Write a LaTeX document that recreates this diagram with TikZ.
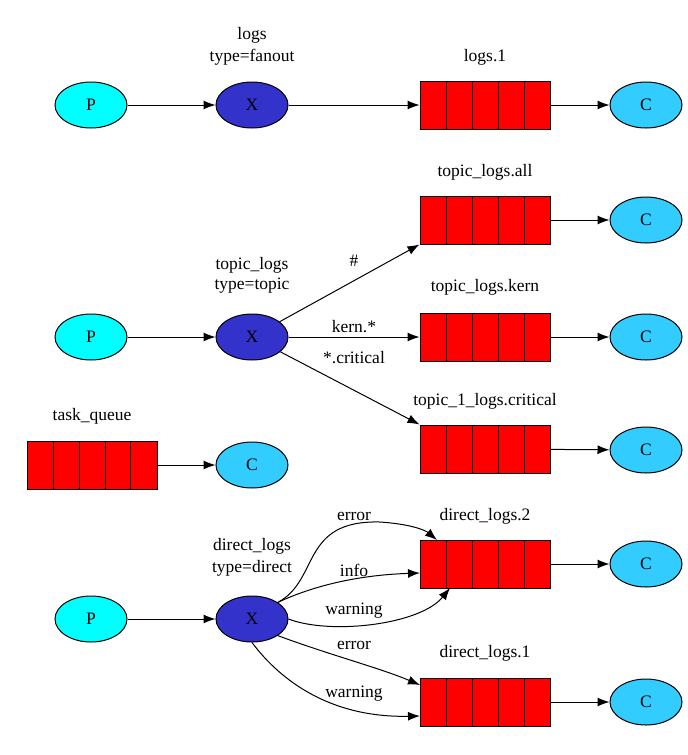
\documentclass[tikz,border=0pt]{standalone}
\usepackage{fontspec}
\setmainfont{Liberation Serif}
\usetikzlibrary{shapes.geometric,arrows.meta,calc}
\definecolor{xblue}{HTML}{3333CC}
\definecolor{cblue}{HTML}{33CCFF}
\definecolor{pcyan}{HTML}{00FFFF}
\begin{document}
\begin{tikzpicture}[x=1pt,y=-1pt,font=\fontsize{17.5}{19}\selectfont,line width=1,
  P/.style={ellipse,draw,fill=pcyan,minimum width=72,minimum height=46,inner sep=0},
  X/.style={ellipse,draw,fill=xblue,minimum width=72,minimum height=46,inner sep=0},
  C/.style={ellipse,draw,fill=cblue,minimum width=72,minimum height=46,inner sep=0},
  Q/.style={rectangle,draw,fill=red,minimum width=130,minimum height=48,inner sep=0,
    path picture={\foreach \i in {1,2,3,4}{\draw ($(path picture bounding box.north west)!\i/5!(path picture bounding box.north east)$) -- ($(path picture bounding box.south west)!\i/5!(path picture bounding box.south east)$);}}},
  e/.style={-{Latex[length=12,width=9]},line width=1},
  lab/.style={inner sep=1}]
\useasboundingbox (0,0) rectangle (688,755);
% row 1
\node[P] (p1) at (91,105) {P};
\node[X] (x1) at (252,105) {X};
\node[Q] (q1) at (485,105) {};
\node[C] (c1) at (646,105) {C};
\node (t1a) at (252,35) {logs};
\node (t1b) at (252,57) {type=fanout};
\node (q1l) at (485,57) {logs.1};
\draw[e] (p1) -- (x1); \draw[e] (x1) -- (q1); \draw[e] (q1) -- (c1);
% topic
\node[P] (p2) at (91,337) {P};
\node[X] (x2) at (252,337) {X};
\node (t2a) at (252,265) {topic\_logs};
\node (t2b) at (252,286) {type=topic};
\node[Q] (q2a) at (485,220) {};
\node[C] (c2a) at (646,220) {C};
\node (q2al) at (485,172) {topic\_logs.all};
\node[Q] (q2b) at (485,337) {};
\node[C] (c2b) at (646,337) {C};
\node (q2bl) at (485,287) {topic\_logs.kern};
\node[Q] (q2c) at (485,449) {};
\node[C] (c2c) at (646,450) {C};
\node (q2cl) at (485,401) {topic\_1\_logs.critical};
\draw[e] (p2) -- (x2);
\draw[e] (x2) -- (q2a.south west);
\draw[e] (x2) -- (q2b.west);
\draw[e] (x2) -- (q2c.north west);
\node[lab] (l1) at (354,261) {\#};
\node[lab] (l2) at (354,327) {kern.*};
\node[lab] (l3) at (354,358) {*.critical};
\draw[e] (q2a) -- (c2a); \draw[e] (q2b) -- (c2b); \draw[e] (q2c) -- (c2c);
% task queue
\node[Q] (tq) at (92,465) {};
\node (tql) at (92,416) {task\_queue};
\node[C] (tc) at (252,465) {C};
\draw[e] (tq) -- (tc);
% direct
\node[P] (p3) at (91,619) {P};
\node[X] (x3) at (252,619) {X};
\node (t3a) at (252,546) {direct\_logs};
\node (t3b) at (252,568) {type=direct};
\node[Q] (q3a) at (485,564) {};
\node[C] (c3a) at (646,564) {C};
\node (q3al) at (485,516) {direct\_logs.2};
\node[Q] (q3b) at (485,702) {};
\node[C] (c3b) at (646,702) {C};
\node (q3bl) at (485,653) {direct\_logs.1};
\draw[e] (p3) -- (p3 -| x3.west);
\draw[e] (x3.north east) .. controls (320,580) and (300,520) .. (380,522) .. controls (410,524) and (425,530) .. (437,540);
\draw[e] (x3.north east) .. controls (315,585) and (360,575) .. (420,573);
\draw[e] (x3.east) .. controls (330,635) and (420,625) .. (450,588);
\draw[e] (x3.south east) .. controls (330,655) and (380,668) .. (420,685);
\draw[e] (x3.south) .. controls (280,680) and (330,718) .. (420,716);
\node[lab] (d1) at (354,516) {error};
\node[lab] (d2) at (354,570) {info};
\node[lab] (d3) at (354,611) {warning};
\node[lab] (d4) at (354,645) {error};
\node[lab] (d5) at (354,694) {warning};
\draw[e] (q3a) -- (c3a); \draw[e] (q3b) -- (c3b);
\end{tikzpicture}
\end{document}
